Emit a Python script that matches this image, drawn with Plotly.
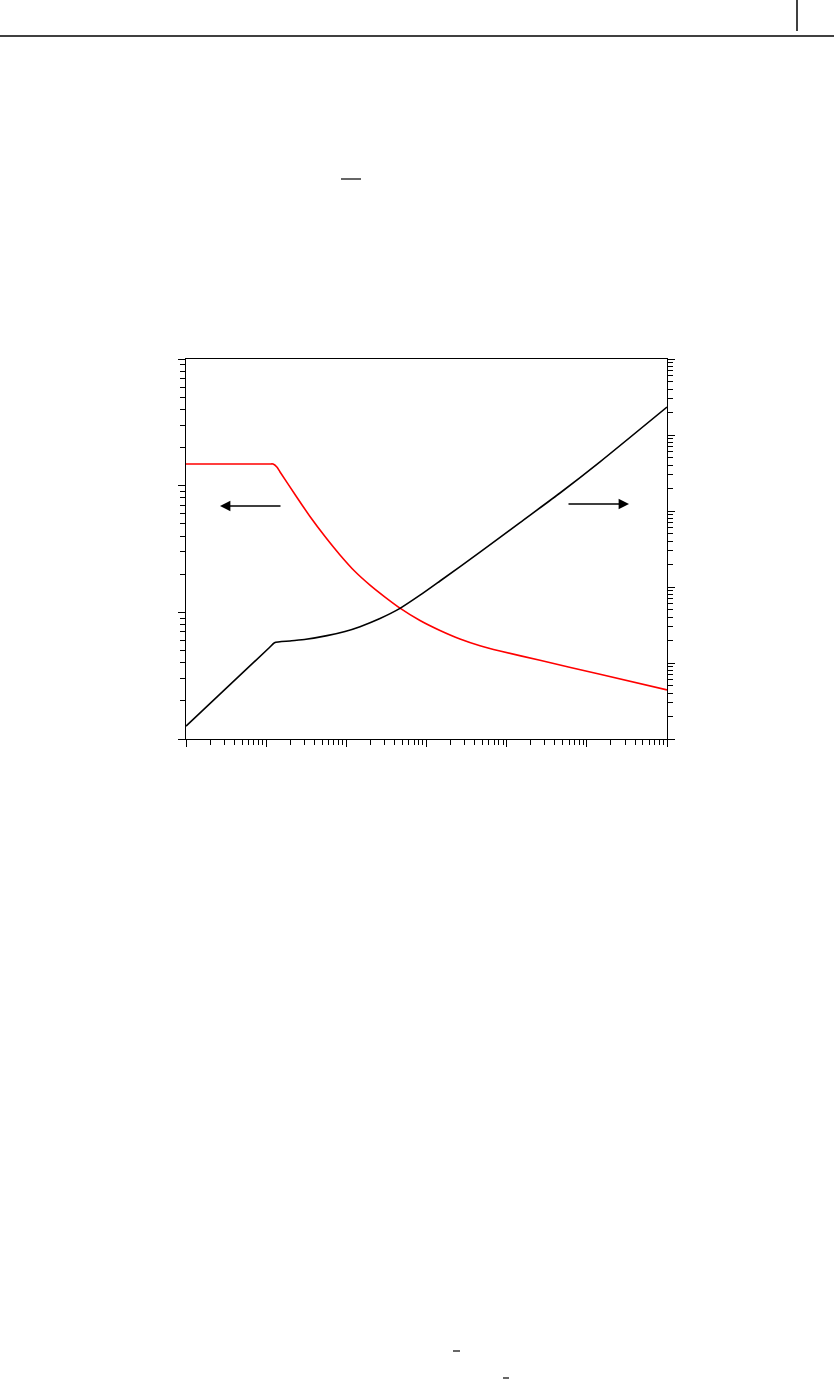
import plotly.graph_objects as go

# ---- data (log-log axes) ----
red_x = [1, 11.0, 12.2, 13.6, 14.9, 22.9, 35.2, 54.2, 83.4, 128.3, 197.4, 303.7, 467, 830,
         1474, 2617, 4650, 8257, 26040, 146000, 1e6]
red_y = [148.3, 148.3, 148.3, 140.3, 128.2, 85.2, 57.1, 39.7, 28.4, 21.0, 16.4, 13.2, 10.8, 8.62,
         7.19, 6.16, 5.45, 4.95, 4.18, 3.24, 2.44]

black_x = [1, 11.0, 12.7, 19.8, 31.4, 57.4, 96.2, 148.1, 263, 467, 830, 1474, 4650, 14670,
           46270, 146000, 1e6]
black_y = [1.48, 16.0, 18.5, 19.5, 20.5, 22.9, 26.0, 30.1, 38.5, 52.3, 78.0, 120, 287, 704,
           1725, 4440, 23360]

decades_x = [10 ** k for k in range(0, 7)]
decades_y1 = [10 ** k for k in range(0, 4)]
decades_y2 = [10 ** k for k in range(0, 6)]


def minors(decs):
    out = []
    for d in decs[:-1]:
        out += [m * d for m in range(2, 10)]
    return out


W, H = 834, 1382
L, R, T, B = 186, 667, 359, 739


def px(x):
    return (x - L) / (R - L)


def py(y):
    return (B - y) / (B - T)


fig = go.Figure()
fig.add_trace(go.Scatter(x=red_x, y=red_y, mode="lines",
                         line=dict(color="#ff0000", width=1.6, shape="spline", smoothing=0.6),
                         yaxis="y", showlegend=False, hoverinfo="skip"))
fig.add_trace(go.Scatter(x=black_x, y=black_y, mode="lines",
                         line=dict(color="#000000", width=1.6, shape="spline", smoothing=0.6),
                         yaxis="y2", showlegend=False, hoverinfo="skip"))

axis_common = dict(type="log", showgrid=False, zeroline=False, showticklabels=False,
                   showline=True, linecolor="black", linewidth=1.3,
                   ticks="outside", ticklen=7, tickwidth=1, tickcolor="black")

fig.update_layout(
    width=W, height=H,
    margin=dict(l=L, r=W - R, t=T, b=H - B),
    paper_bgcolor="white", plot_bgcolor="white",
    xaxis=dict(**axis_common, range=[0, 6], mirror=True, tickmode="array", tickvals=decades_x,
               minor=dict(tickmode="array", tickvals=minors(decades_x), ticks="outside",
                          ticklen=5, tickwidth=1, tickcolor="black", showgrid=False)),
    yaxis=dict(**axis_common, range=[0, 3], tickmode="array", tickvals=decades_y1,
               minor=dict(tickmode="array", tickvals=minors(decades_y1), ticks="outside",
                          ticklen=5, tickwidth=1, tickcolor="black", showgrid=False)),
    yaxis2=dict(**axis_common, range=[0, 5], overlaying="y", side="right", tickmode="array",
                tickvals=decades_y2,
                minor=dict(tickmode="array", tickvals=minors(decades_y2), ticks="outside",
                           ticklen=5, tickwidth=1, tickcolor="black", showgrid=False)),
)

# arrows indicating which axis each curve belongs to
fig.add_annotation(xref="paper", yref="paper", x=px(220), y=py(506), ax=62, ay=0,
                   showarrow=True, arrowhead=2, arrowsize=1.3, arrowwidth=1.6, arrowcolor="black", text="")
fig.add_annotation(xref="paper", yref="paper", x=px(629), y=py(504), ax=-62, ay=0,
                   showarrow=True, arrowhead=2, arrowsize=1.3, arrowwidth=1.6, arrowcolor="black", text="")

# page decorations (header rule, margin bar, stray bars of stripped text)
shapes = [
    dict(x0=px(0), x1=px(834), y0=py(36), y1=py(36), w=1.3),
    dict(x0=px(797), x1=px(797), y0=py(0), y1=py(31), w=1.5),
    dict(x0=px(341), x1=px(361), y0=py(179), y1=py(179), w=1.2),
    dict(x0=px(453), x1=px(460), y0=py(1351), y1=py(1351), w=1.2),
    dict(x0=px(503), x1=px(509), y0=py(1378), y1=py(1378), w=1.2),
]
for s in shapes:
    fig.add_shape(type="line", xref="paper", yref="paper", x0=s["x0"], x1=s["x1"],
                  y0=s["y0"], y1=s["y1"], line=dict(color="black", width=s["w"]))

fig.write_html("out.html", config={"displayModeBar": False},
               post_script="document.body.style.margin='0';document.body.style.overflow='hidden';")
